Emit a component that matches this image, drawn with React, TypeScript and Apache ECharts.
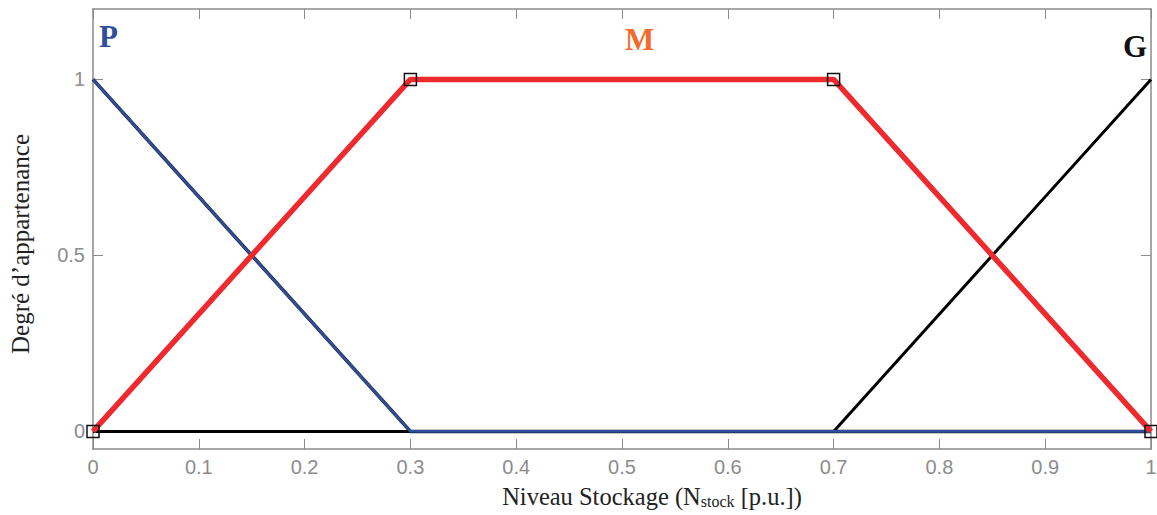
import React, { useEffect, useRef } from "react";
import * as echarts from "echarts";

const xTicks = [0, 0.1, 0.2, 0.3, 0.4, 0.5, 0.6, 0.7, 0.8, 0.9, 1];
const yTicks = [0, 0.5, 1];
const pData: [number, number][] = [[0, 1], [0.3, 0], [1, 0]];
const mData: [number, number][] = [[0, 0], [0.3, 1], [0.7, 1], [1, 0]];
const gData: [number, number][] = [[0, 0], [0.7, 0], [1, 1]];

export default function App() {
  const ref = useRef<HTMLDivElement>(null);
  useEffect(() => {
    const chart = echarts.init(ref.current!, null, { renderer: "svg" });
    const gray = "#8a8a8a";
    const serif = "Liberation Serif, Times New Roman, serif";
    const tickFont = { color: "#8c8c8c", fontSize: 20, fontFamily: "Liberation Sans, Arial, sans-serif" };
    chart.setOption({
      animation: false,
      backgroundColor: "#ffffff",
      grid: { left: 93, right: 6, top: 9, bottom: 66, containLabel: false, outerBoundsMode: "none" },
      xAxis: [
        {
          type: "value", min: 0, max: 1, position: "bottom",
          axisLine: { show: true, onZero: false, lineStyle: { color: gray, width: 1.5 } },
          axisTick: { show: true, inside: true, length: 10, customValues: xTicks, lineStyle: { color: gray } },
          axisLabel: { ...tickFont, margin: 8, customValues: xTicks, formatter: (v: number) => String(v) },
          splitLine: { show: false },
          name: "{a|Niveau Stockage (N}{s|stock}{a| [p.u.])}",
          nameLocation: "middle", nameGap: 34,
          nameTextStyle: {
            padding: [0, 0, 0, 60],
            rich: {
              a: { fontFamily: serif, fontSize: 24.5, color: "#222" },
              s: { fontFamily: serif, fontSize: 16, color: "#222", verticalAlign: "bottom", padding: [10, 0, 0, 0] },
            },
          },
        },
        {
          type: "value", min: 0, max: 1, position: "top",
          axisLine: { show: true, onZero: false, lineStyle: { color: gray, width: 1.5 } },
          axisTick: { show: true, inside: true, length: 10, customValues: xTicks, lineStyle: { color: gray } },
          axisLabel: { show: false },
          splitLine: { show: false },
        },
      ],
      yAxis: [
        {
          type: "value", min: -0.05, max: 1.2, position: "left",
          axisLine: { show: true, onZero: false, lineStyle: { color: gray, width: 1.5 } },
          axisTick: { show: true, inside: true, length: 10, customValues: yTicks, lineStyle: { color: gray } },
          axisLabel: { ...tickFont, margin: 8, customValues: yTicks, formatter: (v: number) => String(v) },
          splitLine: { show: false },
          name: "Degré d’appartenance",
          nameLocation: "middle", nameGap: 60,
          nameTextStyle: { fontFamily: serif, fontSize: 25, color: "#222", padding: [0, 30, 0, 0] },
        },
        {
          type: "value", min: -0.05, max: 1.2, position: "right",
          axisLine: { show: true, onZero: false, lineStyle: { color: gray, width: 1.5 } },
          axisTick: { show: true, inside: true, length: 10, customValues: yTicks, lineStyle: { color: gray } },
          axisLabel: { show: false },
          splitLine: { show: false },
        },
      ],
      series: [
        {
          name: "P-shadow", type: "line", data: pData, symbol: "none",
          lineStyle: { color: "#111", width: 3.5 }, z: 2,
        },
        {
          name: "G", type: "line", data: gData, symbol: "none",
          lineStyle: { color: "#000", width: 3 }, z: 3,
        },
        {
          name: "P", type: "line", data: pData, symbol: "none",
          lineStyle: { color: "#2f4f9c", width: 2.6 }, z: 4,
        },
        {
          name: "M", type: "line", data: mData,
          symbol: "rect", symbolSize: 12, showAllSymbol: true,
          itemStyle: { color: "rgba(255,255,255,0)", borderColor: "#111", borderWidth: 1.5 },
          lineStyle: { color: "#ef2a2f", width: 5.5 }, z: 5,
        },
      ],
      graphic: [
        { type: "text", left: 99, top: 21, style: { text: "P", fill: "#2f4f9c", font: "bold 31px Liberation Serif, Times New Roman, serif" } },
        { type: "text", left: 625, top: 24, style: { text: "M", fill: "#f26b2c", font: "bold 31px Liberation Serif, Times New Roman, serif" } },
        { type: "text", left: 1123, top: 31, style: { text: "G", fill: "#111", font: "bold 31px Liberation Serif, Times New Roman, serif" } },
      ],
    });
    return () => chart.dispose();
  }, []);
  return <div ref={ref} style={{ position: "absolute", left: 0, top: 0, width: 1157, height: 515 }} />;
}
